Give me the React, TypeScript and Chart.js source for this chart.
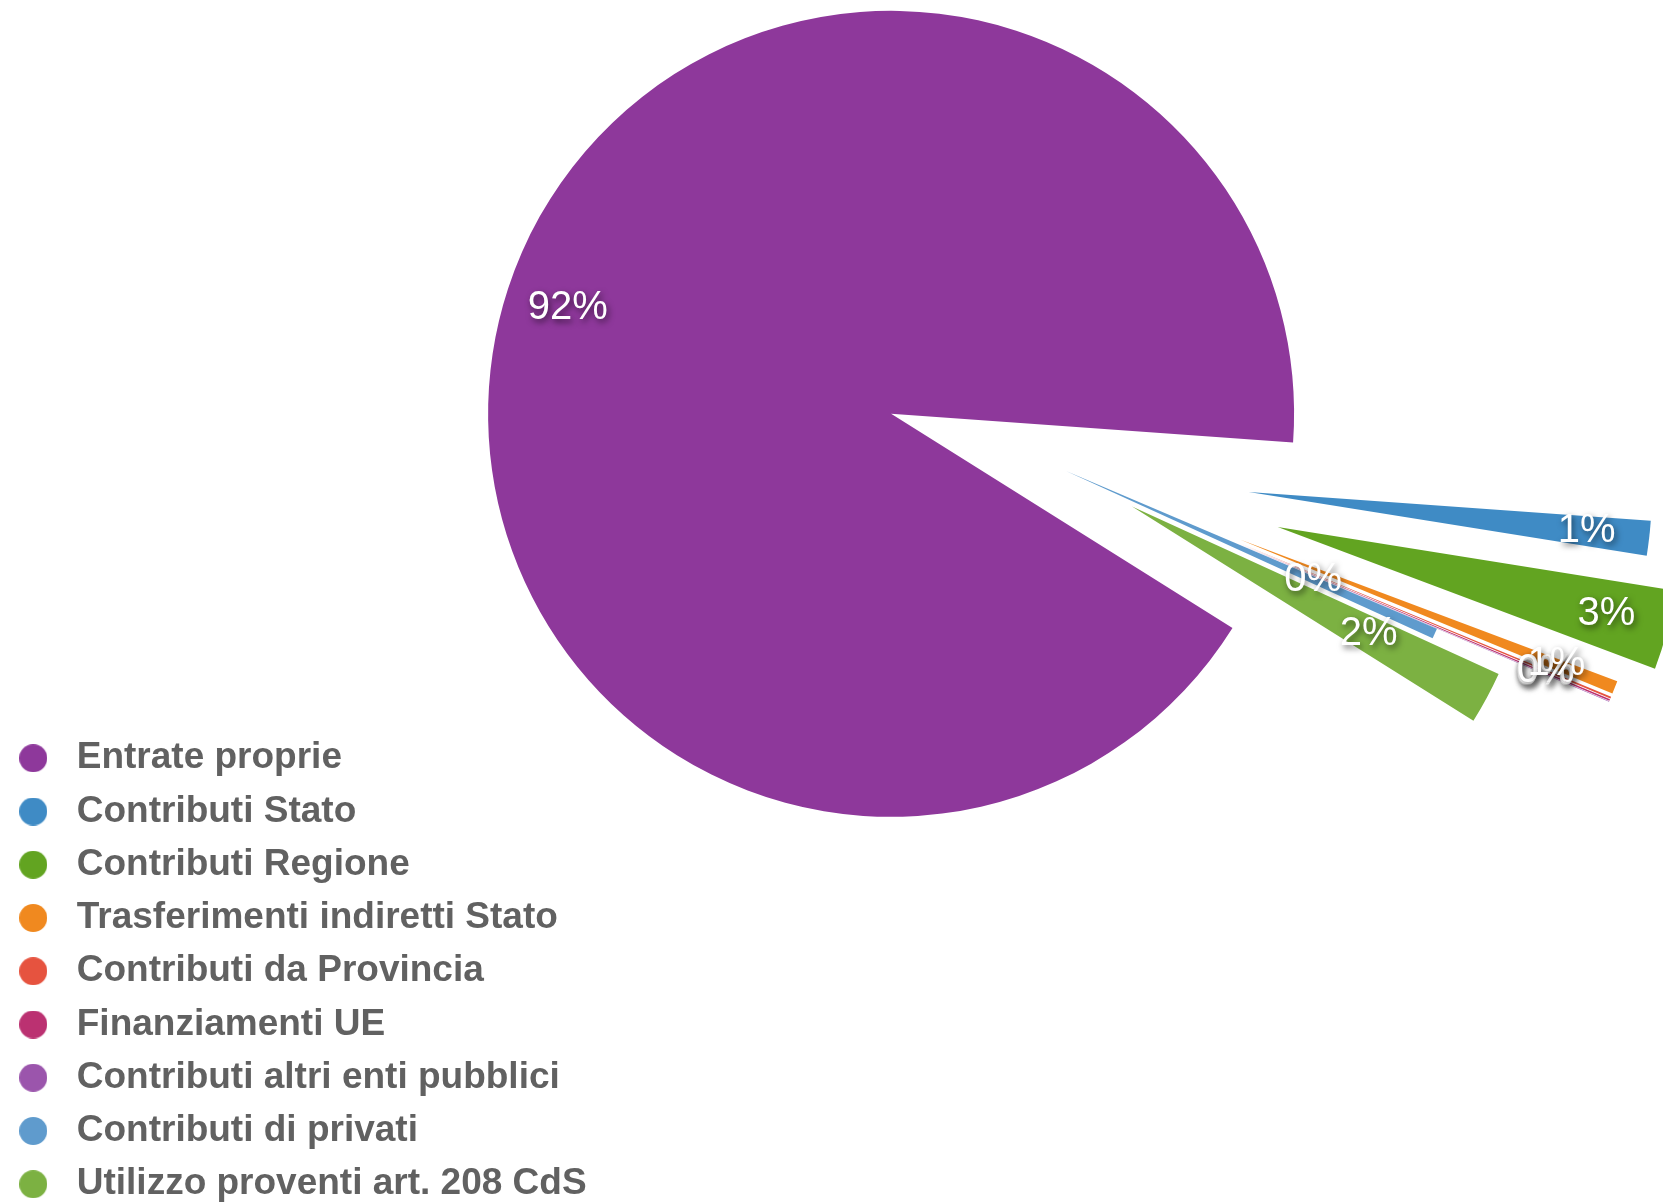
import React, { useEffect, useRef } from 'react';
import { Chart, registerables } from 'chart.js';

Chart.register(...registerables);

// ---- data ----
const LABELS = [
  'Entrate proprie',
  'Contributi Stato',
  'Contributi Regione',
  'Trasferimenti indiretti Stato',
  'Contributi da Provincia',
  'Finanziamenti UE',
  'Contributi altri enti pubblici',
  'Contributi di privati',
  'Utilizzo proventi art. 208 CdS',
];
const VALUES = [92.2, 1.39, 3.19, 0.52, 0.08, 0.06, 0.02, 0.42, 2.1];

// ---- styles ----
const COLORS = ['#8e389b', '#3f8bc5', '#62a421', '#f0891f', '#e6533f', '#bb3171', '#9b55ac', '#5f9bcd', '#7cb142'];
const EXPLODE = [184, 184, 219, 187, 187, 187, 187, 0, 75]; // px each slice is pulled out
const LABEL_AT = [0.844, 0.844, 0.844, 0.844, 0.826, 0.826, 0.826, 0.67, 0.667]; // label distance / radius
const ROTATION = 122.1;
const RADIUS = 403;

const CANVAS_W = 2148;
const CANVAS_H = 1496;

function makeDot(color: string): HTMLCanvasElement {
  const c = document.createElement('canvas');
  c.width = 28;
  c.height = 28;
  const g = c.getContext('2d')!;
  g.fillStyle = color;
  g.beginPath();
  g.arc(14, 14, 14, 0, Math.PI * 2);
  g.fill();
  return c;
}

const explodePlugin = {
  id: 'explodeSlices',
  afterDatasetsUpdate(chart: any) {
    const meta = chart.getDatasetMeta(0);
    meta.data.forEach((arc: any, i: number) => {
      const mid = (arc.startAngle + arc.endAngle) / 2;
      const d = EXPLODE[i] || 0;
      arc.x += Math.cos(mid) * d;
      arc.y += Math.sin(mid) * d;
    });
  },
};

const pctLabelPlugin = {
  id: 'pctLabels',
  afterDatasetsDraw(chart: any) {
    const ctx = chart.ctx as CanvasRenderingContext2D;
    const meta = chart.getDatasetMeta(0);
    const total = VALUES.reduce((a, b) => a + b, 0);
    ctx.save();
    ctx.font = '40px "Liberation Sans", Arial, sans-serif';
    ctx.textAlign = 'center';
    ctx.textBaseline = 'middle';
    ctx.fillStyle = '#ffffff';
    ctx.shadowColor = 'rgba(0,0,0,0.6)';
    ctx.shadowBlur = 6;
    ctx.shadowOffsetX = 2;
    ctx.shadowOffsetY = 3;
    for (let i = meta.data.length - 1; i >= 0; i--) {
      const arc: any = meta.data[i];
      const mid = (arc.startAngle + arc.endAngle) / 2;
      const d = arc.outerRadius * LABEL_AT[i];
      const txt = Math.round((VALUES[i] / total) * 100) + '%';
      ctx.fillText(txt, arc.x + Math.cos(mid) * d, arc.y + Math.sin(mid) * d);
    }
    ctx.restore();
  },
};

export default function App() {
  const ref = useRef<HTMLCanvasElement | null>(null);

  useEffect(() => {
    if (!ref.current) return;
    const dots = COLORS.map(makeDot);
    const chart = new Chart(ref.current, {
      type: 'pie',
      data: {
        labels: LABELS,
        datasets: [
          {
            data: VALUES,
            backgroundColor: COLORS,
            borderWidth: 0,
            radius: RADIUS,
          } as any,
        ],
      },
      options: {
        responsive: false,
        animation: false,
        rotation: ROTATION,
        layout: { padding: 0 },
        plugins: {
          tooltip: { enabled: false },
          legend: {
            position: 'chartArea' as any,
            align: 'end',
            labels: {
              usePointStyle: true,
              pointStyleWidth: 50,
              boxHeight: 28,
              padding: 16.25,
              color: '#616161',
              font: { family: '"Liberation Sans", Arial, sans-serif', size: 37, weight: 'bold' },
              generateLabels: () =>
                LABELS.map((text, i) => ({
                  text,
                  fillStyle: COLORS[i],
                  strokeStyle: COLORS[i],
                  lineWidth: 0,
                  pointStyle: dots[i],
                  hidden: false,
                  index: i,
                  fontColor: '#616161',
                })) as any,
            },
          },
        },
      },
      plugins: [explodePlugin, pctLabelPlugin],
    });
    return () => chart.destroy();
  }, []);

  return (
    <div
      style={{
        position: 'fixed',
        left: 0,
        top: 0,
        width: 1663,
        height: 1204,
        overflow: 'hidden',
        background: '#ffffff',
      }}
    >
      <canvas
        ref={ref}
        width={CANVAS_W}
        height={CANVAS_H}
        style={{ position: 'absolute', left: -8, top: -277, width: CANVAS_W, height: CANVAS_H }}
      />
    </div>
  );
}
